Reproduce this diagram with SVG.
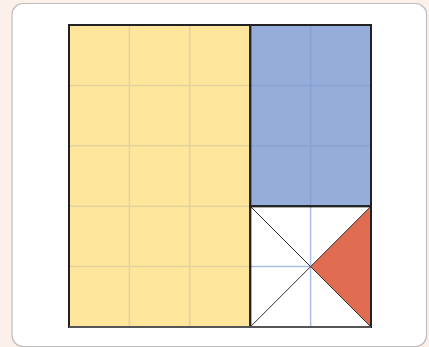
<svg xmlns="http://www.w3.org/2000/svg" width="429" height="347" viewBox="0 0 429 347">
  <defs>
    <style>
      .yg { stroke: #e2d29c; stroke-width: 1.5; fill: none; }
      .bg { stroke: #87a2d2; stroke-width: 1.5; fill: none; }
      .wg { stroke: #a9bfe4; stroke-width: 1.5; fill: none; }
      .border { stroke: #222; stroke-width: 2; fill: none; }
      .diag { stroke: #333; stroke-width: 1; fill: none; }
    </style>
  </defs>
  <rect x="0" y="0" width="429" height="347" fill="#fbf1ea"/>
  <rect x="12" y="3.5" width="414.5" height="343" rx="11" fill="#ffffff" stroke="#bdbdbd" stroke-width="1.2"/>
  <g id="yellow-region">
    <rect x="69" y="25" width="181.2" height="302" fill="#fee69c"/>
    <path class="yg" d="M129.4 25V327M189.8 25V327M69 85.4H250.2M69 145.8H250.2M69 206.2H250.2M69 266.6H250.2"/>
  </g>
  <g id="blue-region">
    <rect x="250.2" y="25" width="120.8" height="181.2" fill="#95add8"/>
    <path class="bg" d="M310.6 25V206.2M250.2 85.4H371M250.2 145.8H371"/>
  </g>
  <g id="white-square">
    <rect x="250.2" y="206.2" width="120.8" height="120.8" fill="#ffffff"/>
    <path class="wg" d="M310.6 206.2V327M250.2 266.6H371"/>
    <polygon points="371,206.2 310.6,266.6 371,327" fill="#e06c51"/>
    <path class="diag" d="M250.2 206.2L371 327M371 206.2L250.2 327"/>
  </g>
  <g id="borders">
    <rect class="border" x="69" y="25" width="181.2" height="302" stroke="#4a4a4a"/>
    <rect class="border" x="250.2" y="25" width="120.8" height="181.2"/>
    <rect class="border" x="250.2" y="206.2" width="120.8" height="120.8"/>
    <path d="M69 327H371" stroke="#555" stroke-width="2"/>
  </g>
</svg>
